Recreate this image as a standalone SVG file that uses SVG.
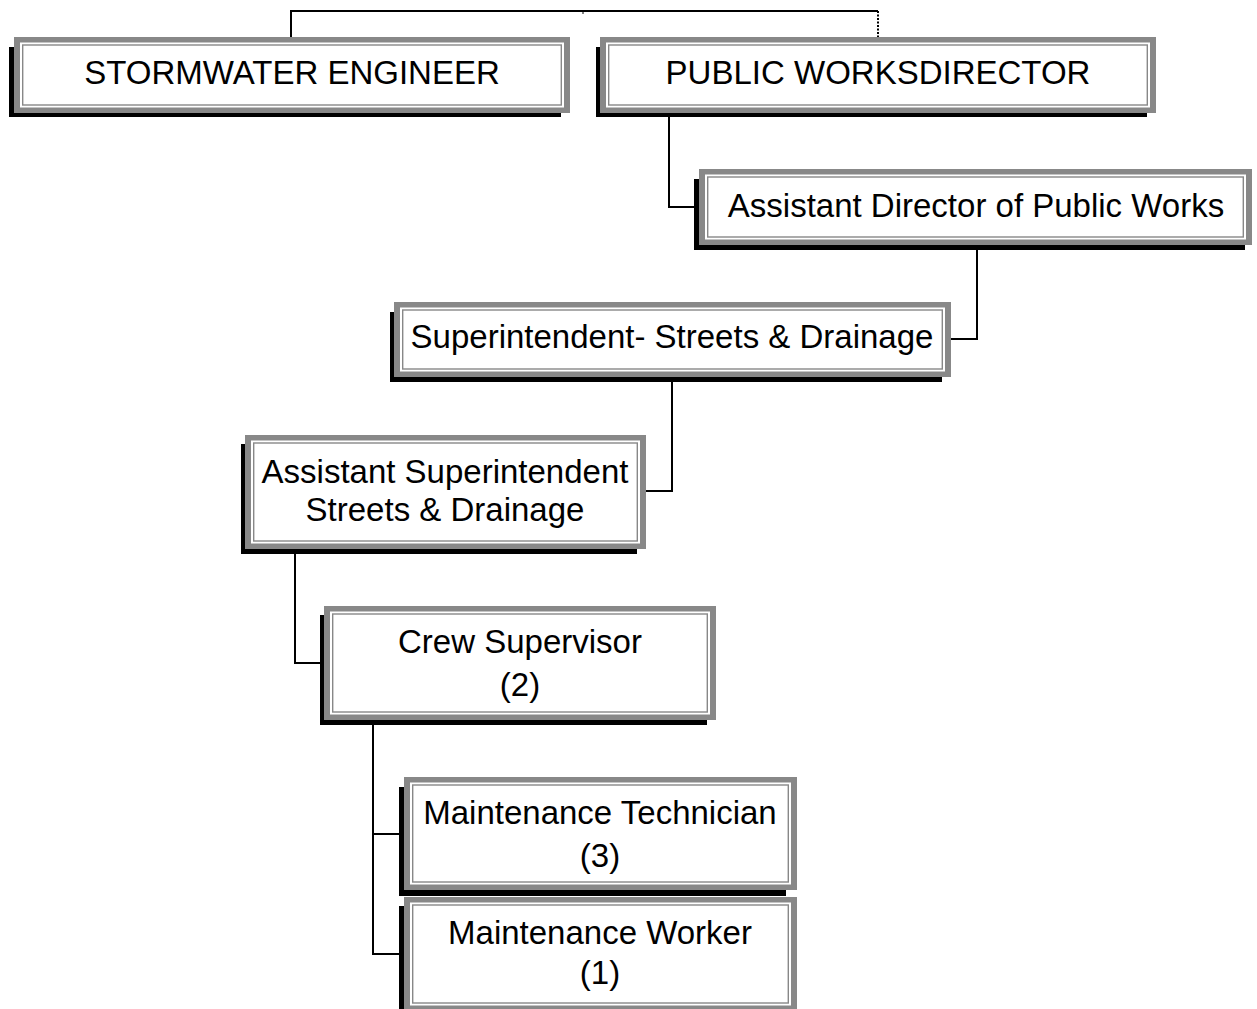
<svg xmlns="http://www.w3.org/2000/svg" width="1257" height="1009" viewBox="0 0 1257 1009">
  <style>
    .shadow { fill: #000; }
    .frame { fill: #888; }
    .gap { fill: #fff; }
    .inner { fill: #fff; stroke: #888; stroke-width: 1.4; }
    .label { font-family: "Liberation Sans", Arial, sans-serif; font-size: 33px; fill: #000; text-anchor: middle; }
    .link { fill: none; stroke: #000; stroke-width: 2; }
    .dotted { fill: none; stroke: #000; stroke-width: 2; stroke-dasharray: 2 1.5; }
  </style>
  <rect width="1257" height="1009" fill="#fff"/>

  <!-- reporting lines -->
  <g id="connectors">
    <polyline class="link" points="291,37 291,11 878,11"/>
    <line class="dotted" x1="878" y1="11" x2="878" y2="37"/>
    <line x1="583" y1="11" x2="583" y2="14" stroke="#000" stroke-width="1"/>
    <polyline class="link" points="669,117 669,207 694,207"/>
    <polyline class="link" points="977,250 977,339 951,339"/>
    <polyline class="link" points="672,382 672,491 646,491"/>
    <polyline class="link" points="295,554 295,663 320,663"/>
    <polyline class="link" points="373,725 373,954 399,954"/>
    <line class="link" x1="373" y1="834" x2="399" y2="834"/>
  </g>

  <g id="stormwater-engineer">
    <rect class="shadow" x="9" y="47" width="552" height="70"/>
    <rect class="frame" x="14" y="37" width="556" height="76"/>
    <rect class="gap" x="20" y="42.5" width="544" height="65"/>
    <rect class="inner" x="22.7" y="45" width="538.6" height="60"/>
    <text class="label" x="292" y="84">STORMWATER ENGINEER</text>
  </g>

  <g id="public-works-director">
    <rect class="shadow" x="596" y="47" width="551" height="70"/>
    <rect class="frame" x="600" y="37" width="556" height="76"/>
    <rect class="gap" x="606" y="42.5" width="544" height="65"/>
    <rect class="inner" x="608.7" y="45" width="538.6" height="60"/>
    <text class="label" x="878" y="84">PUBLIC WORKSDIRECTOR</text>
  </g>

  <g id="assistant-director">
    <rect class="shadow" x="694" y="179" width="551" height="71"/>
    <rect class="frame" x="699" y="169" width="553" height="76"/>
    <rect class="gap" x="705" y="174.5" width="541" height="65"/>
    <rect class="inner" x="707.7" y="177" width="535.6" height="60"/>
    <text class="label" x="976" y="217">Assistant Director of Public Works</text>
  </g>

  <g id="superintendent">
    <rect class="shadow" x="390" y="312" width="552" height="70"/>
    <rect class="frame" x="394" y="302" width="557" height="75"/>
    <rect class="gap" x="400" y="307.5" width="545" height="64"/>
    <rect class="inner" x="402.7" y="310" width="539.6" height="59"/>
    <text class="label" x="672" y="348">Superintendent- Streets &amp; Drainage</text>
  </g>

  <g id="assistant-superintendent">
    <rect class="shadow" x="241" y="444" width="396" height="110"/>
    <rect class="frame" x="245" y="435" width="401" height="114"/>
    <rect class="gap" x="251" y="440.5" width="389" height="103"/>
    <rect class="inner" x="253.7" y="443" width="383.6" height="98"/>
    <text class="label" x="445" y="483">Assistant Superintendent</text>
    <text class="label" x="445" y="521">Streets &amp; Drainage</text>
  </g>

  <g id="crew-supervisor">
    <rect class="shadow" x="320" y="615" width="387" height="110"/>
    <rect class="frame" x="324" y="606" width="392" height="114"/>
    <rect class="gap" x="330" y="611.5" width="380" height="103"/>
    <rect class="inner" x="332.7" y="614" width="374.6" height="98"/>
    <text class="label" x="520" y="653">Crew Supervisor</text>
    <text class="label" x="520" y="696">(2)</text>
  </g>

  <g id="maintenance-technician">
    <rect class="shadow" x="399" y="787" width="387" height="109"/>
    <rect class="frame" x="404" y="777" width="393" height="113"/>
    <rect class="gap" x="410" y="782.5" width="381" height="102"/>
    <rect class="inner" x="412.7" y="785" width="375.6" height="97"/>
    <text class="label" x="600" y="824">Maintenance Technician</text>
    <text class="label" x="600" y="867">(3)</text>
  </g>

  <g id="maintenance-worker">
    <rect class="shadow" x="399" y="906" width="387" height="110"/>
    <rect class="frame" x="404" y="897" width="393" height="114"/>
    <rect class="gap" x="410" y="902.5" width="381" height="103"/>
    <rect class="inner" x="412.7" y="905" width="375.6" height="98"/>
    <text class="label" x="600" y="944">Maintenance Worker</text>
    <text class="label" x="600" y="984">(1)</text>
  </g>
</svg>
